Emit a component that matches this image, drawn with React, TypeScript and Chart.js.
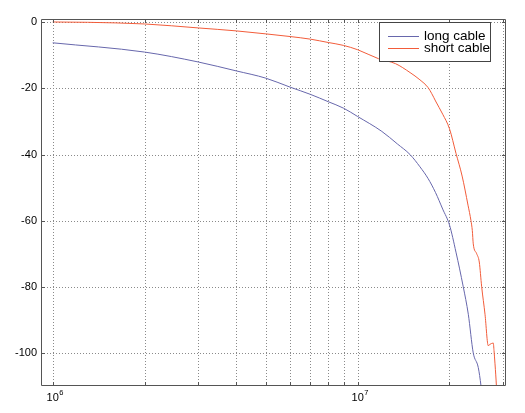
import React, { useEffect, useRef } from "react";
import { Chart, registerables } from "chart.js";

Chart.register(...registerables);

// ---- data ----
const seriesNames = ["long cable", "short cable"];
const seriesColors = ["#6767ac", "#f25c3a"];

const longFreq = [1e6, 2e6, 3e6, 4e6, 5e6, 6e6, 7e6, 8e6, 9e6, 1e7, 1.2e7, 1.35e7, 1.485e7, 1.6e7, 1.7e7, 1.8e7, 1.9e7, 2e7, 2.1e7, 2.219e7, 2.305e7, 2.393e7, 2.485e7, 2.537e7, 2.556e7];
const longDb = [-6.2, -9.0, -12.0, -14.7, -16.9, -19.6, -21.8, -24.0, -26.0, -28.5, -33.0, -36.8, -40, -43.7, -47.2, -51.5, -56.5, -61.3, -69.5, -80, -88.3, -100, -104.4, -110, -113];

const shortFreq = [1e6, 1.3e6, 2e6, 3e6, 4e6, 5e6, 6e6, 7e6, 8e6, 9e6, 1e7, 1.17e7, 1.33e7, 1.485e7, 1.6e7, 1.7e7, 1.75e7, 1.8e7, 1.9e7, 2e7, 2.1e7, 2.2e7, 2.3e7, 2.352e7, 2.376e7, 2.393e7, 2.456e7, 2.504e7, 2.55e7, 2.615e7, 2.68e7, 2.715e7, 2.784e7, 2.799e7, 2.82e7, 2.852e7, 2.86e7];
const shortDb = [0.1, 0, -0.5, -1.7, -2.6, -3.5, -4.3, -5.1, -6.1, -7.0, -8.3, -11.0, -12.5, -15.2, -17.4, -19.7, -21.6, -23.8, -27.8, -32.2, -39.6, -46.5, -55.3, -60, -63, -67, -70, -72.5, -80, -88.3, -97.8, -97.4, -97, -99.3, -103.3, -110.5, -113];

const xGrid = [1e6, 2e6, 3e6, 4e6, 5e6, 6e6, 7e6, 8e6, 9e6, 1e7, 2e7, 3e7];
const xLabelValues = [1e6, 1e7];
const xLabelBase = ["10", "10"];
const xLabelExp = ["6", "7"];
const yTicks = [-100, -80, -60, -40, -20, 0];

const xMin = 9.155e5;
const xMax = 3.064e7;
const yMin = -110;
const yMax = 1;

const FONT = "'Liberation Sans', Arial, Helvetica, sans-serif";
const frameColor = "#555555";
const gridColor = "#8a8a8a";

const framePlugin = {
  id: "matlabFrame",
  beforeDatasetsDraw(chart: any) {
    const { ctx, chartArea } = chart;
    const { left, right, top, bottom } = chartArea;
    const xs = chart.scales.x;
    const ys = chart.scales.y;
    ctx.save();
    ctx.strokeStyle = gridColor;
    ctx.lineWidth = 1;
    ctx.setLineDash([1, 2]);
    for (const v of xGrid) {
      const px = Math.round(xs.getPixelForValue(v)) + 0.5;
      ctx.beginPath();
      ctx.moveTo(px, top);
      ctx.lineTo(px, bottom);
      ctx.stroke();
    }
    for (const v of yTicks) {
      const py = Math.round(ys.getPixelForValue(v)) + 0.5;
      ctx.beginPath();
      ctx.moveTo(left, py);
      ctx.lineTo(right, py);
      ctx.stroke();
    }
    ctx.restore();
  },
  afterDatasetsDraw(chart: any) {
    const { ctx, chartArea } = chart;
    const { left, right, top, bottom } = chartArea;
    const xs = chart.scales.x;
    const ys = chart.scales.y;
    ctx.save();
    ctx.setLineDash([]);
    ctx.strokeStyle = frameColor;
    ctx.lineWidth = 1;
    const tl = 4;
    // inward ticks
    for (const v of xGrid) {
      const px = Math.round(xs.getPixelForValue(v)) + 0.5;
      ctx.beginPath();
      ctx.moveTo(px, bottom);
      ctx.lineTo(px, bottom - tl);
      ctx.moveTo(px, top);
      ctx.lineTo(px, top + tl);
      ctx.stroke();
    }
    for (const v of yTicks) {
      const py = Math.round(ys.getPixelForValue(v)) + 0.5;
      ctx.beginPath();
      ctx.moveTo(left, py);
      ctx.lineTo(left + tl, py);
      ctx.moveTo(right, py);
      ctx.lineTo(right - tl, py);
      ctx.stroke();
    }
    // frame
    ctx.beginPath();
    ctx.rect(left + 0.5, top + 0.5, right - left - 1, bottom - top - 1);
    ctx.stroke();

    // legend
    const bR = right - 15;
    const bL = bR - 112;
    const bT = top + 3;
    const bB = top + 43;
    ctx.fillStyle = "#ffffff";
    ctx.fillRect(bL, bT, bR - bL, bB - bT);
    ctx.strokeStyle = "#444444";
    ctx.strokeRect(bL + 0.5, bT + 0.5, bR - bL - 1, bB - bT - 1);
    ctx.font = `13.5px ${FONT}`;
    ctx.textAlign = "left";
    ctx.textBaseline = "middle";
    seriesNames.forEach((name, i) => {
      const ry = bT + 13.5 + i * 12.6;
      ctx.strokeStyle = seriesColors[i];
      ctx.beginPath();
      ctx.moveTo(bL + 9, Math.round(ry) + 0.5);
      ctx.lineTo(bL + 40, Math.round(ry) + 0.5);
      ctx.stroke();
      ctx.fillStyle = "#000000";
      ctx.fillText(name, bL + 45, ry + 0.5);
    });

    // x labels with superscript exponent
    ctx.fillStyle = "#000000";
    ctx.textBaseline = "alphabetic";
    xLabelValues.forEach((v, i) => {
      const px = xs.getPixelForValue(v);
      ctx.font = `11px ${FONT}`;
      ctx.textAlign = "center";
      const w = ctx.measureText(xLabelBase[i]).width;
      ctx.fillText(xLabelBase[i], px, bottom + 15);
      ctx.font = `7.5px ${FONT}`;
      ctx.textAlign = "left";
      ctx.fillText(xLabelExp[i], px + w / 2 + 0.5, bottom + 9);
    });
    ctx.restore();
  },
};

export default function App() {
  const ref = useRef<HTMLCanvasElement>(null);
  useEffect(() => {
    const canvas = ref.current;
    if (!canvas) return;
    const chart = new Chart(canvas, {
      type: "line",
      data: {
        datasets: [
          {
            label: seriesNames[0],
            data: longFreq.map((x, i) => ({ x, y: longDb[i] })),
            borderColor: seriesColors[0],
            backgroundColor: seriesColors[0],
            borderWidth: 1,
            pointRadius: 0,
            cubicInterpolationMode: "monotone",
            fill: false,
          },
          {
            label: seriesNames[1],
            data: shortFreq.map((x, i) => ({ x, y: shortDb[i] })),
            borderColor: seriesColors[1],
            backgroundColor: seriesColors[1],
            borderWidth: 1,
            pointRadius: 0,
            cubicInterpolationMode: "monotone",
            fill: false,
          },
        ],
      },
      options: {
        animation: false,
        responsive: false,
        devicePixelRatio: 1,
        events: [],
        layout: { padding: { left: 0, top: 19, right: 19, bottom: 0 } },
        plugins: {
          legend: { display: false },
          tooltip: { enabled: false },
          title: { display: false },
        },
        scales: {
          x: {
            type: "logarithmic",
            min: xMin,
            max: xMax,
            grid: { display: false, drawTicks: false },
            border: { display: false },
            ticks: { display: false },
            afterBuildTicks: (s: any) => {
              s.ticks = xGrid.map((v) => ({ value: v }));
            },
            afterFit: (s: any) => {
              s.height = 27;
            },
          },
          y: {
            type: "linear",
            min: yMin,
            max: yMax,
            grid: { display: false, drawTicks: false },
            border: { display: false },
            afterBuildTicks: (s: any) => {
              s.ticks = yTicks.map((v) => ({ value: v }));
            },
            afterFit: (s: any) => {
              s.width = 41;
            },
            ticks: {
              padding: 4,
              color: "#000000",
              font: { family: FONT, size: 11 },
              callback: (v: any) => String(v),
            },
          },
        },
      } as any,
      plugins: [framePlugin],
    });
    return () => chart.destroy();
  }, []);
  return (
    <div style={{ position: "absolute", left: 0, top: 0, width: 525, height: 413, background: "#ffffff" }}>
      <canvas ref={ref} width={525} height={413} style={{ display: "block", width: 525, height: 413 }} />
    </div>
  );
}
